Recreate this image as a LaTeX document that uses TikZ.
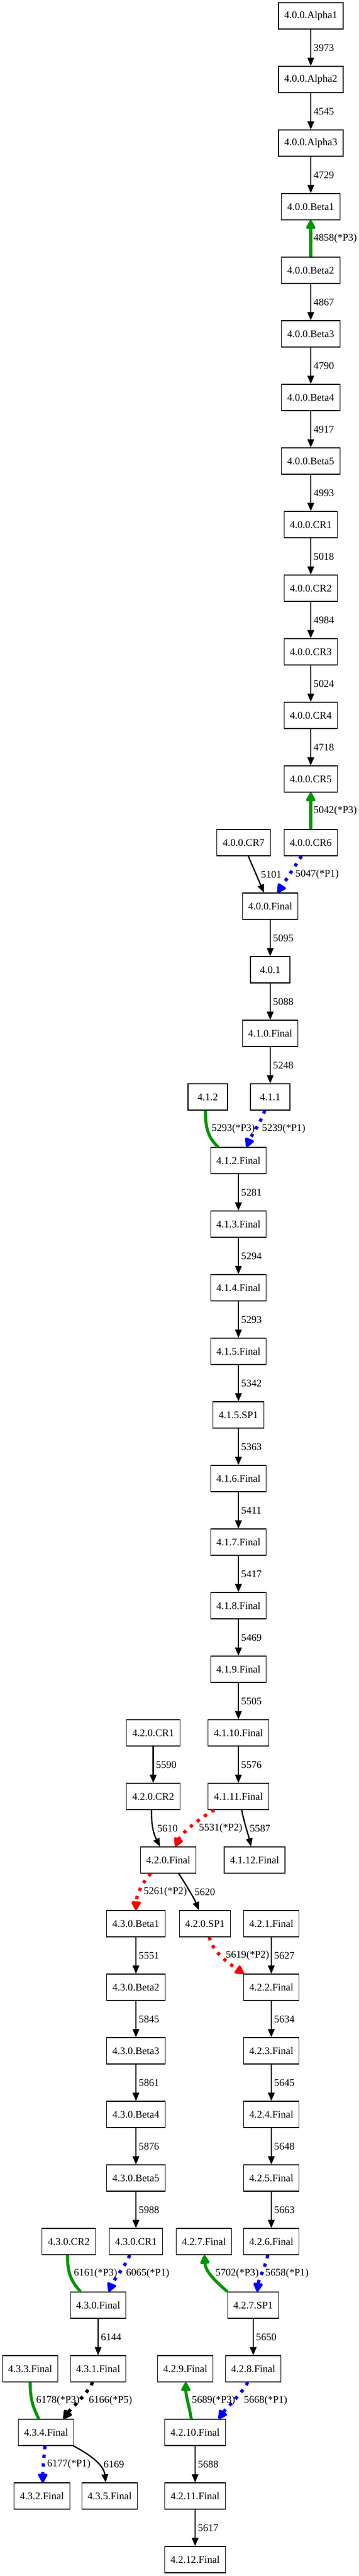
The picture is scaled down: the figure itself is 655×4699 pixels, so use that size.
\documentclass[tikz,border=0pt]{standalone}
\usepackage{fontspec}
\setmainfont{Liberation Serif}
\usetikzlibrary{arrows.meta}
\definecolor{ggreen}{RGB}{0,150,0}
\definecolor{bblue}{RGB}{0,0,255}
\definecolor{rred}{RGB}{255,0,0}
\begin{document}
\begin{tikzpicture}[x=1pt,y=-1pt,
  box/.style={draw, line width=1.2pt, rectangle, minimum width=72pt, minimum height=48pt,
    inner xsep=10.6pt, inner ysep=0pt, font=\fontsize{18.67}{22}\selectfont},
  lab/.style={anchor=west, inner sep=0pt, font=\fontsize{18.67}{22}\selectfont},
  ed/.style={line width=2.4pt, -{Triangle[length=15pt,width=12pt]}},
  gr/.style={draw=ggreen, line width=5.5pt},
  grh/.style={gr, -{Triangle[length=19pt,width=19pt,round]}},
  bl/.style={draw=bblue, line width=6pt, dash pattern=on 6pt off 10pt, -{Triangle[length=19pt,width=19pt,round]}},
  rd/.style={draw=rred, line width=6pt, dash pattern=on 6pt off 10pt, -{Triangle[length=19pt,width=19pt,round]}},
  bk/.style={draw=black, line width=6pt, dash pattern=on 6pt off 10pt, -{Triangle[length=19pt,width=19pt,round]}}
]
\useasboundingbox (0,0) rectangle (655,4699);
\fill[white] (0,0) rectangle (655,4699);
% ---- nodes: main column ----
\node[box] (a1) at (567,29) {4.0.0.Alpha1};
\node[box] (a2) at (567,145) {4.0.0.Alpha2};
\node[box] (a3) at (567,261) {4.0.0.Alpha3};
\node[box] (b1) at (567,377) {4.0.0.Beta1};
\node[box] (b2) at (567,493) {4.0.0.Beta2};
\node[box] (b3) at (567,609) {4.0.0.Beta3};
\node[box] (b4) at (567,725) {4.0.0.Beta4};
\node[box] (b5) at (567,841) {4.0.0.Beta5};
\node[box] (c1) at (567,957) {4.0.0.CR1};
\node[box] (c2) at (567,1073) {4.0.0.CR2};
\node[box] (c3) at (567,1189) {4.0.0.CR3};
\node[box] (c4) at (567,1305) {4.0.0.CR4};
\node[box] (c5) at (567,1421) {4.0.0.CR5};
\node[box] (c6) at (567,1537) {4.0.0.CR6};
\node[box] (c7) at (444.5,1537) {4.0.0.CR7};
\node[box] (f400) at (493,1653) {4.0.0.Final};
\node[box] (v401) at (493,1769) {4.0.1};
\node[box] (f410) at (493,1885) {4.1.0.Final};
\node[box] (v411) at (493,2001) {4.1.1};
\node[box] (v412) at (379,2001) {4.1.2};
\node[box] (f412) at (435,2117) {4.1.2.Final};
\node[box] (f413) at (435,2233) {4.1.3.Final};
\node[box] (f414) at (435,2349) {4.1.4.Final};
\node[box] (f415) at (435,2465) {4.1.5.Final};
\node[box] (s415) at (435,2581) {4.1.5.SP1};
\node[box] (f416) at (435,2697) {4.1.6.Final};
\node[box] (f417) at (435,2813) {4.1.7.Final};
\node[box] (f418) at (435,2929) {4.1.8.Final};
\node[box] (f419) at (435,3045) {4.1.9.Final};
\node[box] (f4110) at (435,3161) {4.1.10.Final};
\node[box] (f4111) at (435,3277) {4.1.11.Final};
\node[box] (f4112) at (464.5,3393) {4.1.12.Final};
\node[box] (r1) at (279.5,3161) {4.2.0.CR1};
\node[box] (r2) at (279.5,3277) {4.2.0.CR2};
\node[box] (f420) at (307,3393) {4.2.0.Final};
\node[box] (t1) at (248,3509) {4.3.0.Beta1};
\node[box] (t2) at (248,3625) {4.3.0.Beta2};
\node[box] (t3) at (248,3741) {4.3.0.Beta3};
\node[box] (t4) at (248,3857) {4.3.0.Beta4};
\node[box] (t5) at (248,3973) {4.3.0.Beta5};
\node[box] (tc1) at (248,4089) {4.3.0.CR1};
\node[box] (tc2) at (125.6,4089) {4.3.0.CR2};
\node[box] (s420) at (374,3509) {4.2.0.SP1};
\node[box] (f421) at (495,3509) {4.2.1.Final};
\node[box] (f422) at (495,3625) {4.2.2.Final};
\node[box] (f423) at (495,3741) {4.2.3.Final};
\node[box] (f424) at (495,3857) {4.2.4.Final};
\node[box] (f425) at (495,3973) {4.2.5.Final};
\node[box] (f426) at (495,4089) {4.2.6.Final};
\node[box] (f427) at (372,4089) {4.2.7.Final};
\node[box] (f430) at (179,4205) {4.3.0.Final};
\node[box] (s427) at (462,4205) {4.2.7.SP1};
\node[box] (f433) at (55,4321) {4.3.3.Final};
\node[box] (f431) at (179,4321) {4.3.1.Final};
\node[box] (f429) at (338,4321) {4.2.9.Final};
\node[box] (f428) at (462,4321) {4.2.8.Final};
\node[box] (f434) at (84,4437) {4.3.4.Final};
\node[box] (f4210) at (356,4437) {4.2.10.Final};
\node[box] (f432) at (76.5,4553) {4.3.2.Final};
\node[box] (f435) at (200,4553) {4.3.5.Final};
\node[box] (f4211) at (356,4553) {4.2.11.Final};
\node[box] (f4212) at (356,4669) {4.2.12.Final};
% ---- edges ----
\draw[ed] (a1.south) -- (a2.north);
\draw[ed] (a2.south) -- (a3.north);
\draw[ed] (a3.south) -- (b1.north);
\draw[grh] (b2.north) -- (b1.south);
\draw[ed] (b2.south) -- (b3.north);
\draw[ed] (b3.south) -- (b4.north);
\draw[ed] (b4.south) -- (b5.north);
\draw[ed] (b5.south) -- (c1.north);
\draw[ed] (c1.south) -- (c2.north);
\draw[ed] (c2.south) -- (c3.north);
\draw[ed] (c3.south) -- (c4.north);
\draw[ed] (c4.south) -- (c5.north);
\draw[grh] (c6.north) -- (c5.south);
\draw[ed] ([xshift=8.5pt]c7.south) -- ([xshift=-11.3pt]f400.north);
\draw[bl] ([xshift=-17pt]c6.south) -- ([xshift=13.7pt]f400.north);
\draw[ed] (f400.south) -- (v401.north);
\draw[ed] (v401.south) -- (f410.north);
\draw[ed] (f410.south) -- (v411.north);
\draw[gr] ([xshift=-4pt]v412.south) .. controls +(-1,40) and +(-13,-13) .. ([xshift=-37pt]f412.north);
\draw[bl] ([xshift=-10pt]v411.south) .. controls +(-6,20) and +(8,-20) .. ([xshift=15pt]f412.north);
\draw[ed] (f412.south) -- (f413.north);
\draw[ed] (f413.south) -- (f414.north);
\draw[ed] (f414.south) -- (f415.north);
\draw[ed] (f415.south) -- (s415.north);
\draw[ed] (s415.south) -- (f416.north);
\draw[ed] (f416.south) -- (f417.north);
\draw[ed] (f417.south) -- (f418.north);
\draw[ed] (f418.south) -- (f419.north);
\draw[ed] (f419.south) -- (f4110.north);
\draw[ed] (f4110.south) -- (f4111.north);
\draw[ed] ([xshift=6pt]f4111.south) .. controls +(4,22) and +(-5,-22) .. ([xshift=-6.5pt]f4112.north);
\draw[rd] ([xshift=-44pt]f4111.south) .. controls +(-22,12) and +(12,-26) .. ([xshift=13pt]f420.north);
\draw[ed] (r1.south) -- (r2.north);
\draw[ed] ([xshift=-3pt]r2.south) .. controls +(-1,38) and +(-7,-14) .. ([xshift=-15pt]f420.north);
\draw[rd] ([xshift=-32pt]f420.south) .. controls +(-12,12) and +(1,-30) .. (t1.north);
\draw[ed] ([xshift=19pt]f420.south) .. controls +(12,18) and +(-8,-20) .. ([xshift=-11pt]s420.north);
\draw[rd] ([xshift=8pt]s420.south) .. controls +(6,28) and +(-26,-18) .. ([xshift=-50pt]f422.north);
\draw[ed] (f421.south) -- (f422.north);
\draw[ed] (t1.south) -- (t2.north);
\draw[ed] (t2.south) -- (t3.north);
\draw[ed] (t3.south) -- (t4.north);
\draw[ed] (t4.south) -- (t5.north);
\draw[ed] (t5.south) -- (tc1.north);
\draw[ed] (f422.south) -- (f423.north);
\draw[ed] (f423.south) -- (f424.north);
\draw[ed] (f424.south) -- (f425.north);
\draw[ed] (f425.south) -- (f426.north);
\draw[gr] ([xshift=-2.6pt]tc2.south) .. controls +(0,38) and +(-14,-16) .. ([xshift=-32pt]f430.north);
\draw[bl] ([xshift=-11.4pt]tc1.south) .. controls +(-8,20) and +(8,-20) .. ([xshift=19.5pt]f430.north);
\draw[grh] ([xshift=-47pt]s427.north) .. controls +(-16,-14) and +(2,32) .. ([xshift=1pt]f427.south);
\draw[bl] ([xshift=-6.5pt]f426.south) .. controls +(-4,20) and +(2,-20) .. ([xshift=7.5pt]s427.north);
\draw[ed] (f430.south) -- (f431.north);
\draw[ed] (s427.south) -- (f428.north);
\draw[gr] (f433.south) .. controls +(0,36) and +(-8,-18) .. ([xshift=-13.4pt]f434.north);
\draw[bk] ([xshift=-10pt]f431.south) .. controls +(-10,22) and +(14,-20) .. ([xshift=32pt]f434.north);
\draw[grh] ([xshift=-7pt]f4210.north) .. controls +(-4,-24) and +(0,24) .. ([xshift=1pt]f429.south);
\draw[bl] ([xshift=-10pt]f428.south) .. controls +(-12,22) and +(14,-20) .. ([xshift=43pt]f4210.north);
\draw[bl] ([xshift=-2pt]f434.south) .. controls +(-2,24) and +(0,-24) .. ([xshift=1.5pt]f432.north);
\draw[ed] ([xshift=50pt]f434.south) .. controls +(26,14) and +(-4,-34) .. ([xshift=-7pt]f435.north);
\draw[ed] (f4210.south) -- (f4211.north);
\draw[ed] (f4211.south) -- (f4212.north);
% ---- edge labels ----
\node[lab] (l1) at (572,87) {3973};
\node[lab] (l2) at (572,203) {4545};
\node[lab] (l3) at (572,319) {4729};
\node[lab] (l4) at (572,435) {4858(*P3)};
\node[lab] (l5) at (572,551) {4867};
\node[lab] (l6) at (572,667) {4790};
\node[lab] (l7) at (572,783) {4917};
\node[lab] (l8) at (572,899) {4993};
\node[lab] (l9) at (572,1015) {5018};
\node[lab] (l10) at (572,1131) {4984};
\node[lab] (l11) at (572,1247) {5024};
\node[lab] (l12) at (572,1363) {4718};
\node[lab] (l13) at (572,1479) {5042(*P3)};
\node[lab] (l14) at (476,1595) {5101};
\node[lab] (l15) at (539,1595) {5047(*P1)};
\node[lab] (l16) at (498,1711) {5095};
\node[lab] (l17) at (498,1827) {5088};
\node[lab] (l18) at (498,1943) {5248};
\node[lab] (l19) at (386,2059) {5293(*P3)};
\node[lab] (l20) at (478,2059) {5239(*P1)};
\node[lab] (l21) at (440,2175) {5281};
\node[lab] (l22) at (440,2291) {5294};
\node[lab] (l23) at (440,2407) {5293};
\node[lab] (l24) at (440,2523) {5342};
\node[lab] (l25) at (440,2639) {5363};
\node[lab] (l26) at (440,2755) {5411};
\node[lab] (l27) at (440,2871) {5417};
\node[lab] (l28) at (440,2987) {5469};
\node[lab] (l29) at (440,3103) {5505};
\node[lab] (l30) at (440,3219) {5576};
\node[lab] (l31) at (284.5,3219) {5590};
\node[lab] (l32) at (286.7,3335) {5610};
\node[lab] (l33) at (363,3335) {5531(*P2)};
\node[lab] (l34) at (455.7,3335) {5587};
\node[lab] (l35) at (262,3451) {5261(*P2)};
\node[lab] (l36) at (355,3451) {5620};
\node[lab] (l37) at (253,3567) {5551};
\node[lab] (l38) at (412,3567) {5619(*P2)};
\node[lab] (l39) at (500,3567) {5627};
\node[lab] (l40) at (253,3683) {5845};
\node[lab] (l41) at (253,3799) {5861};
\node[lab] (l42) at (253,3915) {5876};
\node[lab] (l43) at (253,4031) {5988};
\node[lab] (l44) at (500,3683) {5634};
\node[lab] (l45) at (500,3799) {5645};
\node[lab] (l46) at (500,3915) {5648};
\node[lab] (l47) at (500,4031) {5663};
\node[lab] (l48) at (134.7,4147) {6161(*P3)};
\node[lab] (l49) at (229.8,4147) {6065(*P1)};
\node[lab] (l50) at (393,4147) {5702(*P3)};
\node[lab] (l51) at (484,4147) {5658(*P1)};
\node[lab] (l52) at (184,4263) {6144};
\node[lab] (l53) at (467,4263) {5650};
\node[lab] (l54) at (66,4379) {6178(*P3)};
\node[lab] (l55) at (162,4379) {6166(*P5)};
\node[lab] (l56) at (350,4379) {5689(*P3)};
\node[lab] (l57) at (445,4379) {5668(*P1)};
\node[lab] (l58) at (86,4495) {6177(*P1)};
\node[lab] (l59) at (189,4495) {6169};
\node[lab] (l60) at (361,4495) {5688};
\node[lab] (l61) at (361,4611) {5617};
\end{tikzpicture}
\end{document}
